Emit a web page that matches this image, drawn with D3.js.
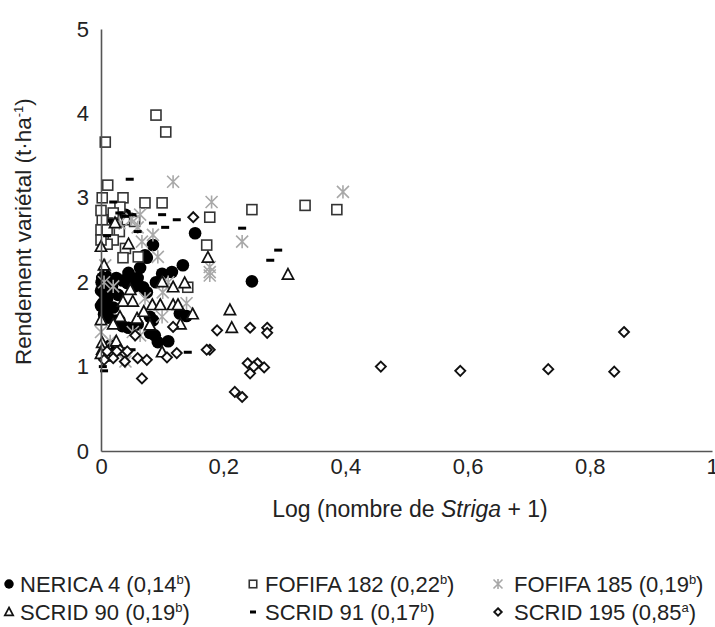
<!DOCTYPE html>
<html>
<head>
<meta charset="utf-8">
<script src="https://cdn.jsdelivr.net/npm/d3@7"></script>
<style>
  body { margin: 0; background: #fff; }
  svg text { font-family: "Liberation Sans", Arial, Helvetica, sans-serif; fill: #222; }
</style>
</head>
<body>
<div id="chart"></div>
<script>
// chart size
const width = 715
const height = 627

// data: [log(striga+1), rendement]
const nerica4 = [
  [0.002, 2.05], [0.004, 1.95], [0.006, 1.85], [0.003, 1.75], [0.008, 1.68], [0.012, 2.0],
  [0.015, 1.9], [0.010, 1.8], [0.005, 1.62], [0.020, 1.7], [0.025, 2.05], [0.030, 1.55],
  [0.035, 1.48], [0.045, 2.11], [0.043, 1.99], [0.064, 2.17], [0.069, 1.94], [0.075, 1.88],
  [0.072, 2.32], [0.075, 2.29], [0.085, 2.44], [0.116, 2.12], [0.134, 2.2], [0.129, 1.63],
  [0.080, 1.59], [0.085, 1.55], [0.045, 1.46], [0.080, 1.4], [0.088, 1.37], [0.093, 1.29],
  [0.154, 2.58], [0.247, 2.01], [0.060, 2.05], [0.055, 1.95], [0.020, 2.75], [0.040, 2.8],
  [0.050, 2.75], [0.090, 2.0], [0.100, 2.1], [0.140, 1.6], [0.015, 1.25], [0.025, 1.22],
  [0.060, 1.5], [0.110, 1.3], [0.000, 1.9], [0.001, 2.0], [0.007, 2.1], [0.018, 1.95],
  [0.028, 1.85], [0.035, 2.02], [0.050, 2.05], [0.058, 1.98], [0.000, 1.72], [0.012, 1.58]
]
const fofifa182 = [
  [0.007, 3.66], [0.090, 3.98], [0.106, 3.78], [0.011, 3.15], [0.036, 3.0], [0.002, 3.0],
  [0.072, 2.94], [0.100, 2.94], [0.031, 2.89], [0.178, 2.77], [0.002, 2.74], [0.000, 2.62],
  [0.010, 2.62], [0.043, 2.74], [0.247, 2.86], [0.334, 2.91], [0.386, 2.86], [0.173, 2.44],
  [0.040, 2.40], [0.036, 2.29], [0.061, 2.30], [0.142, 1.94], [0.030, 2.6], [0.055, 2.72],
  [0.020, 2.5], [0.010, 2.45], [0.020, 2.82], [0.000, 2.85], [0.000, 2.5]
]
const fofifa185 = [
  [0.118, 3.19], [0.181, 2.95], [0.396, 3.07], [0.231, 2.48], [0.178, 2.18], [0.178, 2.12],
  [0.178, 2.08], [0.064, 2.80], [0.085, 2.56], [0.067, 2.48], [0.093, 2.30], [0.101, 1.88],
  [0.072, 1.81], [0.100, 1.59], [0.052, 1.41], [0.064, 1.37], [0.007, 2.2], [0.000, 1.41],
  [0.040, 1.06], [0.030, 2.7], [0.050, 2.75], [0.020, 1.95], [0.015, 1.3], [0.110, 2.0],
  [0.140, 1.75], [0.005, 2.0], [0.060, 2.65]
]
const scrid90 = [
  [0.175, 2.29], [0.306, 2.09], [0.211, 1.67], [0.214, 1.46], [0.100, 2.00], [0.137, 1.99],
  [0.118, 1.94], [0.036, 1.77], [0.052, 1.77], [0.084, 1.73], [0.097, 1.73], [0.118, 1.73],
  [0.126, 1.73], [0.031, 1.59], [0.059, 1.57], [0.100, 1.17], [0.023, 2.70], [0.000, 2.42],
  [0.048, 1.91], [0.000, 1.55], [0.002, 1.28], [0.002, 1.2], [0.010, 1.12], [0.080, 1.49],
  [0.130, 1.5], [0.045, 2.45], [0.005, 2.2], [0.070, 1.65], [0.020, 1.5], [0.150, 1.62],
  [0.000, 1.15], [0.025, 1.3]
]
const scrid91 = [
  [0.047, 3.22], [0.100, 2.80], [0.051, 2.80], [0.124, 2.74], [0.085, 2.70], [0.105, 2.65],
  [0.231, 2.64], [0.290, 2.38], [0.277, 2.26], [0.142, 1.17], [0.003, 1.0], [0.020, 2.95],
  [0.030, 2.82], [0.040, 2.78], [0.010, 2.55], [0.060, 2.6], [0.070, 1.9], [0.020, 1.6],
  [0.050, 1.2], [0.005, 0.95]
]
const scrid195 = [
  [0.458, 1.0], [0.588, 0.95], [0.732, 0.97], [0.840, 0.94], [0.856, 1.41],
  [0.190, 1.43], [0.244, 1.46], [0.272, 1.46], [0.272, 1.40], [0.178, 1.20], [0.240, 1.04],
  [0.256, 1.04], [0.267, 0.99], [0.244, 0.92], [0.250, 1.0], [0.219, 0.70], [0.231, 0.64],
  [0.118, 1.47], [0.056, 1.37], [0.031, 1.20], [0.039, 1.16], [0.039, 1.06], [0.108, 1.11],
  [0.124, 1.16], [0.173, 1.20], [0.067, 0.86], [0.010, 1.18], [0.026, 1.18], [0.043, 1.18],
  [0.020, 1.1], [0.060, 1.1], [0.075, 1.08], [0.151, 2.77], [0.005, 1.08]
]

const xTicks = [0, 0.2, 0.4, 0.6, 0.8, 1]
const yTicks = [0, 1, 2, 3, 4, 5]

// legend entries: name, value, letter
const seriesNames = ["NERICA 4", "FOFIFA 182", "FOFIFA 185", "SCRID 90", "SCRID 91", "SCRID 195"]
const seriesMeans = ["0,14", "0,22", "0,19", "0,19", "0,17", "0,85"]
const seriesLetters = ["b", "b", "b", "b", "b", "a"]
const seriesData = [nerica4, fofifa182, fofifa185, scrid90, scrid91, scrid195]
const seriesMarks = ["circle", "square", "star", "triangle", "dash", "diamond"]

const margin = {left: 101, right: 3, top: 29, bottom: 176}

const x = d3.scaleLinear().domain([0, 1]).range([margin.left, width - margin.right])
const y = d3.scaleLinear().domain([0, 5]).range([height - margin.bottom, margin.top])

const fmt = d => String(d).replace(".", ",")

var svg = d3.select("#chart").append("svg")
  .attr("width", width)
  .attr("height", height)

// marker drawing
function drawMark(g, kind, s) {
  s = s || 1
  if (kind == "circle") {
    g.append("circle").attr("r", 6.3 * s).attr("fill", "#000")
  } else if (kind == "square") {
    g.append("rect").attr("x", -5 * s).attr("y", -5 * s).attr("width", 10 * s).attr("height", 10 * s)
      .attr("fill", "#fff").attr("stroke", "#333").attr("stroke-width", 1.6)
  } else if (kind == "triangle") {
    g.append("path").attr("d", d3.line()([[0, -6 * s], [5.6 * s, 4.5 * s], [-5.6 * s, 4.5 * s]]) + "Z")
      .attr("fill", "#fff").attr("stroke", "#111").attr("stroke-width", 1.7)
  } else if (kind == "diamond") {
    g.append("path").attr("d", d3.line()([[0, -5 * s], [5 * s, 0], [0, 5 * s], [-5 * s, 0]]) + "Z")
      .attr("fill", "#fff").attr("stroke", "#111").attr("stroke-width", 1.9)
  } else if (kind == "dash") {
    g.append("rect").attr("x", -4 * s).attr("y", -1.5).attr("width", 8 * s).attr("height", 3)
      .attr("fill", "#000")
  } else if (kind == "star") {
    const r = 6 * s
    g.append("path")
      .attr("d", `M${-r},${-r}L${r},${r}M${-r},${r}L${r},${-r}M0,${-r * 1.1}L0,${r * 1.1}`)
      .attr("stroke", "#a8a8a8").attr("stroke-width", 1.6).attr("fill", "none")
  }
}

// points, series drawn in order so later ones sit on top
seriesData.forEach(function(data, i) {
  svg.append("g").attr("class", "series")
    .selectAll("g")
    .data(data)
    .enter()
    .append("g")
    .attr("transform", d => `translate(${x(d[0])},${y(d[1])})`)
    .each(function() { drawMark(d3.select(this), seriesMarks[i]) })
})

// axes
var xAxis = svg.append("g")
  .attr("transform", `translate(0,${y(0)})`)
  .call(d3.axisBottom(x).tickValues(xTicks).tickFormat(fmt).tickSize(0).tickPadding(7))
var yAxis = svg.append("g")
  .attr("transform", `translate(${x(0)},0)`)
  .call(d3.axisLeft(y).tickValues(yTicks).tickFormat(fmt).tickSize(0).tickPadding(12))

svg.selectAll(".domain").attr("stroke", "#555").attr("stroke-width", 1.6)
svg.selectAll(".tick text").attr("font-size", 22).attr("fill", "#222")
  .style("font-family", '"Liberation Sans", Arial, sans-serif')

// axis titles
svg.append("text")
  .attr("transform", `translate(31,${y(2.6)}) rotate(-90)`)
  .attr("text-anchor", "middle")
  .attr("font-size", 22.5)
  .html('Rendement variétal (t·ha<tspan dy="-8" font-size="13">-1</tspan><tspan dy="8">)</tspan>')

var xt = svg.append("text")
  .attr("x", 410).attr("y", 517)
  .attr("text-anchor", "middle")
  .attr("font-size", 23)
xt.append("tspan").text("Log (nombre de ")
xt.append("tspan").attr("font-style", "italic").text("Striga")
xt.append("tspan").text(" + 1)")

// legend
const legX = [9, 253, 498]
const legText = [11, 12, 16]
const legY = [584, 612]
seriesNames.forEach(function(name, i) {
  const lx = legX[i % 3], ly = legY[Math.floor(i / 3)]
  const g = svg.append("g").attr("transform", `translate(${lx},${ly})`)
  drawMark(g, seriesMarks[i], 0.75)
  const t = g.append("text").attr("x", legText[i % 3]).attr("y", 8).attr("font-size", 22)
  t.append("tspan").text(`${name} (${seriesMeans[i]}`)
  t.append("tspan").attr("dy", -8).attr("font-size", 13).text(seriesLetters[i])
  t.append("tspan").attr("dy", 8).text(")")
})
</script>
</body>
</html>
